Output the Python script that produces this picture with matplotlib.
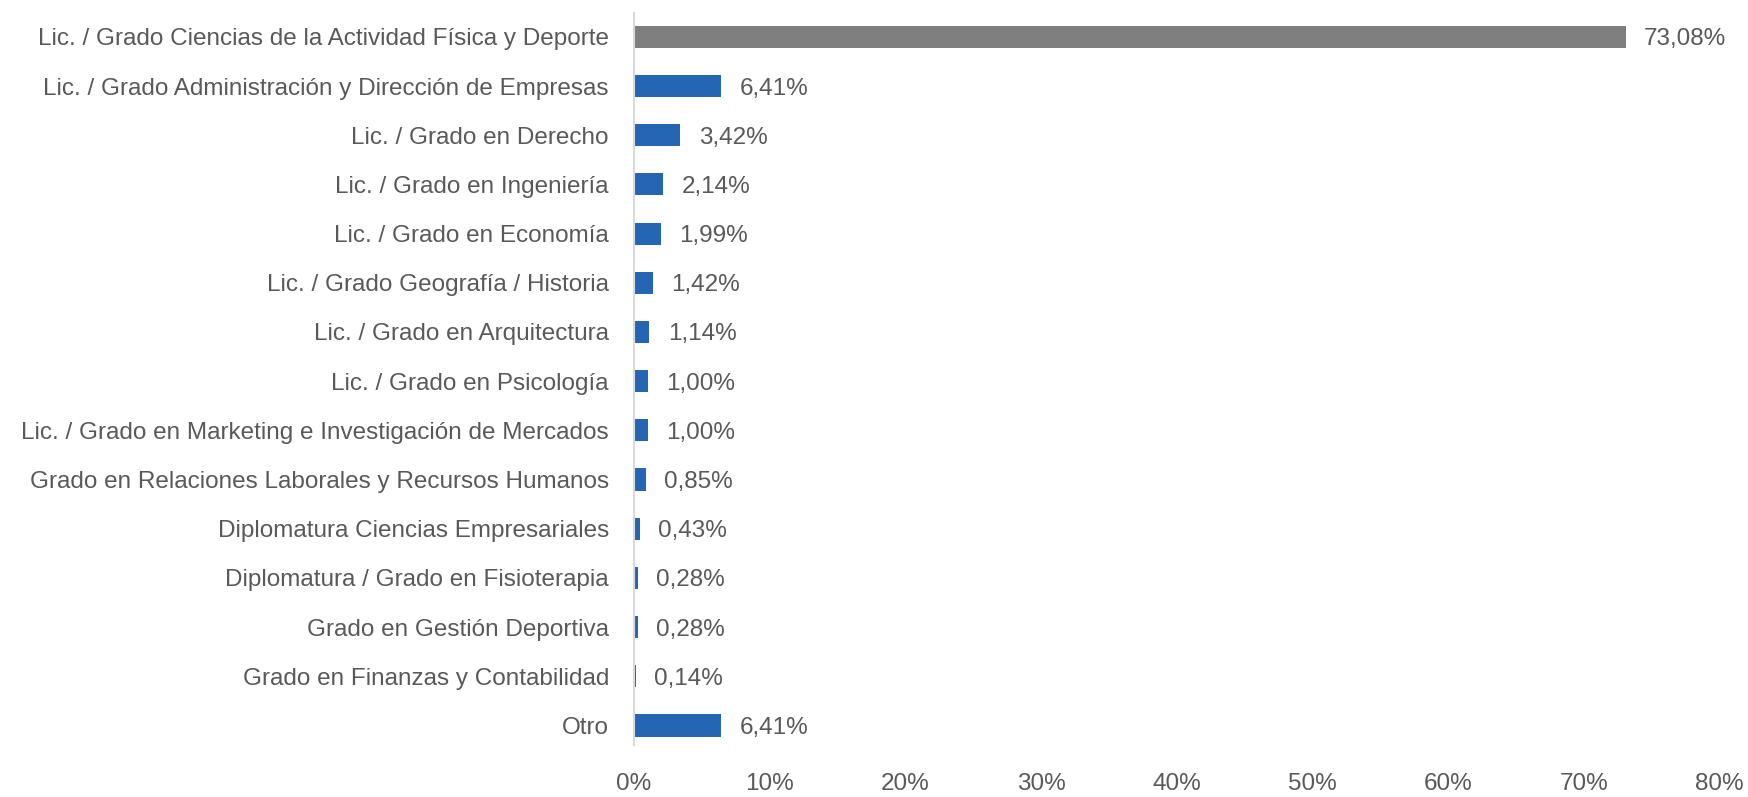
import matplotlib
matplotlib.use("Agg")
import matplotlib.pyplot as plt
from matplotlib.ticker import FuncFormatter

carreras = [
    "Lic. / Grado Ciencias de la Actividad Física y Deporte",
    "Lic. / Grado Administración y Dirección de Empresas",
    "Lic. / Grado en Derecho",
    "Lic. / Grado en Ingeniería",
    "Lic. / Grado en Economía",
    "Lic. / Grado Geografía / Historia",
    "Lic. / Grado en Arquitectura",
    "Lic. / Grado en Psicología",
    "Lic. / Grado en Marketing e Investigación de Mercados",
    "Grado en Relaciones Laborales y Recursos Humanos",
    "Diplomatura Ciencias Empresariales",
    "Diplomatura / Grado en Fisioterapia",
    "Grado en Gestión Deportiva",
    "Grado en Finanzas y Contabilidad",
    "Otro",
]
porcentajes = [73.08, 6.41, 3.42, 2.14, 1.99, 1.42, 1.14, 1.00, 1.00, 0.85, 0.43, 0.28, 0.28, 0.14, 6.41]
x_ticks = [0, 10, 20, 30, 40, 50, 60, 70, 80]

plt.rcParams['font.family'] = ['Liberation Sans', 'DejaVu Sans']

gris = "#7F7F7F"
azul = "#2566B4"
texto = "#595959"
fs = 17.5

fig = plt.figure(figsize=(17.48, 7.97), dpi=100)
ax = fig.add_axes([0.3627, 0.065, 0.621, 0.919])

colores = [gris] + [azul] * (len(porcentajes) - 1)
pos = list(range(len(carreras)))
ax.barh(pos, porcentajes, height=0.45, color=colores)

for p, v in zip(pos, porcentajes):
    ax.text(v + 1.35, p + 0.05, f"{v:.2f}".replace(".", ",") + "%", va="center", ha="left",
            fontsize=fs, color=texto)

ax.set_ylim(14.4, -0.49)
ax.set_xlim(0, 80)
ax.set_yticks(pos)
ax.set_yticklabels(carreras)
ax.set_xticks(x_ticks)
ax.xaxis.set_major_formatter(FuncFormatter(lambda v, _: f"{v:.0f}%"))
ax.tick_params(axis="both", length=0, labelsize=fs, colors=texto)
ax.tick_params(axis="y", pad=18)
ax.tick_params(axis="x", pad=20)

for s in ["top", "right", "bottom"]:
    ax.spines[s].set_visible(False)
ax.spines["left"].set_color("#D9D9D9")
ax.spines["left"].set_linewidth(1.5)

fig.savefig("out.png", dpi=100)
